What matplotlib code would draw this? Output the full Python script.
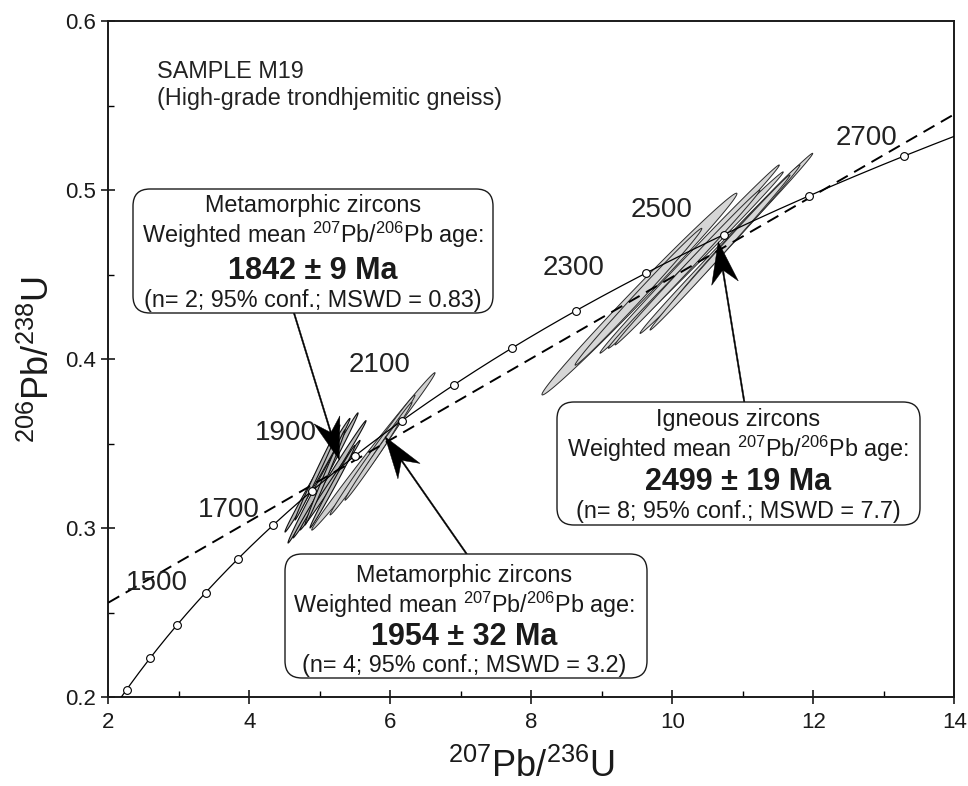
import numpy as np
import matplotlib
matplotlib.use("Agg")
import matplotlib.pyplot as plt
from matplotlib.patches import Polygon, FancyBboxPatch, FancyArrow
from matplotlib.ticker import MultipleLocator, FormatStrFormatter

plt.rcParams['font.family'] = ['Liberation Sans', 'DejaVu Sans']
plt.rcParams['mathtext.fontset'] = 'custom'
plt.rcParams['mathtext.rm'] = 'Liberation Sans'
plt.rcParams['mathtext.it'] = 'Liberation Sans:italic'
plt.rcParams['mathtext.bf'] = 'Liberation Sans:bold'

# ---------------------------------------------------------------- data
# U decay constants (per year)
LAMBDA_238 = 1.55125e-10
LAMBDA_235 = 9.8485e-10

marker_ages = [1200, 1300, 1400, 1500, 1600, 1700, 1800, 1900, 2000,
               2100, 2200, 2300, 2400, 2500, 2600, 2700]
label_ages = [1500, 1700, 1900, 2100, 2300, 2500, 2700]

# discordia (dashed) end points
discordia_x = [2.0, 14.0]
discordia_y = [0.256, 0.545]

# analyses: 207Pb/235U, 1s, 206Pb/238U, 1s, error correlation
meta1_x = [5.046, 5.138, 4.967, 5.145, 5.074, 4.967, 5.180]
meta1_sx = [0.497, 0.518, 0.461, 0.426, 0.284, 0.319, 0.319]
meta1_y = [0.3298, 0.3290, 0.3314, 0.3255, 0.3301, 0.3330, 0.3246]
meta1_sy = [0.0385, 0.0347, 0.0336, 0.0265, 0.0281, 0.0281, 0.0244]
meta1_rho = [0.996, 0.997, 0.996, 0.996, 0.995, 0.996, 0.995]

meta2_x = [5.760, 5.748, 5.915, 5.747]
meta2_sx = [0.875, 0.603, 0.393, 0.390]
meta2_y = [0.3455, 0.3434, 0.3506, 0.3403]
meta2_sy = [0.0466, 0.0355, 0.0240, 0.0237]
meta2_rho = [0.9965, 0.996, 0.995, 0.995]

ign_x = [9.534, 9.520, 10.246, 10.333, 10.767, 10.889, 10.215, 10.677]
ign_sx = [1.383, 0.899, 1.272, 1.241, 1.225, 0.922, 1.028, 0.993]
ign_y = [0.4386, 0.4370, 0.4593, 0.4587, 0.4686, 0.4731, 0.4543, 0.4632]
ign_sy = [0.0597, 0.0405, 0.0557, 0.0522, 0.0533, 0.0420, 0.0458, 0.0459]
ign_rho = [0.995, 0.996, 0.998, 0.998, 0.998, 0.997, 0.998, 0.998]

# arrow tips (data units) pointing at each population
tip_meta1 = (5.277, 0.3404)
tip_meta2 = (5.925, 0.3542)
tip_ign = (10.652, 0.4696)

box_meta1 = ["Metamorphic zircons",
             r"Weighted mean $^{207}$Pb/$^{206}$Pb age:",
             "1842 \u00b1 9 Ma",
             "(n= 2; 95% conf.; MSWD = 0.83)"]
box_ign = ["Igneous zircons",
           r"Weighted mean $^{207}$Pb/$^{206}$Pb age:",
           "2499 \u00b1 19 Ma",
           "(n= 8; 95% conf.; MSWD = 7.7)"]
box_meta2 = ["Metamorphic zircons",
             r"Weighted mean $^{207}$Pb/$^{206}$Pb age:",
             "1954 \u00b1 32 Ma",
             "(n= 4; 95% conf.; MSWD = 3.2)"]

# ---------------------------------------------------------------- figure
W, H, DPI = 968, 786, 100
fig = plt.figure(figsize=(W / DPI, H / DPI), dpi=DPI)
ax = fig.add_axes([108.3 / W, (H - 697.3) / H, 846.0 / W, 676.0 / H])
ax.set_xlim(2, 14)
ax.set_ylim(0.2, 0.6)


def px(x, y):
    """pixel position (from top-left) -> figure inches"""
    return x / DPI, (H - y) / DPI


INCH = fig.dpi_scale_trans


def ellipse_pts(x, sx, y, sy, rho, n=200):
    t = np.linspace(0, 2 * np.pi, n)
    ex = x + sx * np.cos(t)
    ey = y + sy * (rho * np.cos(t) + np.sqrt(1 - rho ** 2) * np.sin(t))
    return np.column_stack([ex, ey])


def draw_group(xs, sxs, ys, sys_, rhos, face, edge, lw):
    for x, sx, y, sy, r in zip(xs, sxs, ys, sys_, rhos):
        ax.add_patch(Polygon(ellipse_pts(x, sx, y, sy, r), closed=True,
                             facecolor=face, edgecolor=edge, linewidth=lw,
                             zorder=2))


draw_group(ign_x, ign_sx, ign_y, ign_sy, ign_rho, '#d6d6d6', '#2a2a2a', 0.7)
draw_group(meta2_x, meta2_sx, meta2_y, meta2_sy, meta2_rho, '#d0d0d0', '#2a2a2a', 0.7)
draw_group(meta1_x, meta1_sx, meta1_y, meta1_sy, meta1_rho, '#bcbcbc', '#111111', 0.8)

# concordia curve
t = np.linspace(1100e6, 2800e6, 600)
ax.plot(np.exp(LAMBDA_235 * t) - 1, np.exp(LAMBDA_238 * t) - 1,
        color='black', lw=0.9, zorder=3)
ma = np.array(marker_ages) * 1e6
ax.plot(np.exp(LAMBDA_235 * ma) - 1, np.exp(LAMBDA_238 * ma) - 1,
        ls='none', marker='o', ms=5.6, mfc='white', mec='black', mew=0.8,
        zorder=5)

# discordia
ax.plot(discordia_x, discordia_y, color='black', lw=1.4,
        dashes=(6.5, 3.8), zorder=4)

# age labels next to concordia
label_pos = {1500: (157, 590), 1700: (229, 517), 1900: (286, 440),
             2100: (380, 372), 2300: (574, 275), 2500: (662, 217),
             2700: (866, 145)}
for age in label_ages:
    fx, fy = px(*label_pos[age])
    fig.text(fx / (W / DPI), fy / (H / DPI), str(age), fontsize=20,
             ha='center', va='baseline', color='#222222', zorder=6)

# sample title
fig.text(156.7 / W, (H - 78.3) / H, "SAMPLE M19", fontsize=16.8,
         ha='left', va='baseline', color='#222222')
fig.text(156.7 / W, (H - 105) / H, "(High-grade trondhjemitic gneiss)",
         fontsize=16.8, ha='left', va='baseline', color='#222222')

# axes styling
for s in ax.spines.values():
    s.set_linewidth(1.4)
    s.set_color('#1a1a1a')
ax.xaxis.set_major_locator(MultipleLocator(2))
ax.xaxis.set_minor_locator(MultipleLocator(1))
ax.yaxis.set_major_locator(MultipleLocator(0.1))
ax.yaxis.set_minor_locator(MultipleLocator(0.05))
ax.yaxis.set_major_formatter(FormatStrFormatter('%.1f'))
ax.tick_params(which='major', direction='inout', length=9.5, width=1.2,
               labelsize=16, colors='#1a1a1a', pad=6)
ax.tick_params(which='minor', direction='in', length=4.3, width=1.0)
ax.tick_params(axis='y', which='major', pad=4)
ax.set_xlabel(r'$^{207}$Pb/$^{236}$U', fontsize=26, labelpad=11,
              color='#1a1a1a')
ax.set_ylabel(r'$^{206}$Pb/$^{238}$U', fontsize=26, labelpad=6,
              color='#1a1a1a')

# summary boxes
boxes = [
    (box_meta1, (133, 189, 493, 313), 313, (211.7, 243.3, 279, 306.7)),
    (box_ign, (557, 402, 920, 525), 738, (425.7, 456.7, 490.5, 518.3)),
    (box_meta2, (285, 554, 647, 678), 464, (582, 613, 645, 672)),
]
for lines, (x0, y0, x1, y1), cx, bases in boxes:
    bx, by = px(x0, y1)
    ax.add_artist(FancyBboxPatch((bx, by), (x1 - x0) / DPI, (y1 - y0) / DPI,
                                 boxstyle="round,pad=0,rounding_size=0.17",
                                 transform=INCH, facecolor='white',
                                 edgecolor='#1a1a1a', linewidth=1.0,
                                 zorder=7, clip_on=False))
    for i, (txt, b) in enumerate(zip(lines, bases)):
        fx, fy = px(cx, b)
        bold = (i == 2)
        fig.text(fx / (W / DPI), fy / (H / DPI), txt,
                 fontsize=22 if bold else 16.8,
                 fontweight='bold' if bold else 'normal',
                 ha='center', va='baseline', color='#1a1a1a', zorder=8)

# arrows from boxes to populations
fig.canvas.draw()
arrows = [((294, 313), tip_meta1), ((466.7, 554), tip_meta2),
          ((744.3, 402), tip_ign)]
for (tx, ty), tip in arrows:
    dx_, dy_ = ax.transData.transform(tip)
    hx, hy = dx_ / DPI, dy_ / DPI
    sx_, sy_ = px(tx, ty)
    ax.add_artist(FancyArrow(sx_, sy_, hx - sx_, hy - sy_, width=0.014,
                             head_width=0.27, head_length=0.42, overhang=0.3,
                             length_includes_head=True, transform=INCH,
                             facecolor='black', edgecolor='black',
                             linewidth=0.3, zorder=6, clip_on=False))

fig.savefig('out.png', dpi=DPI)
